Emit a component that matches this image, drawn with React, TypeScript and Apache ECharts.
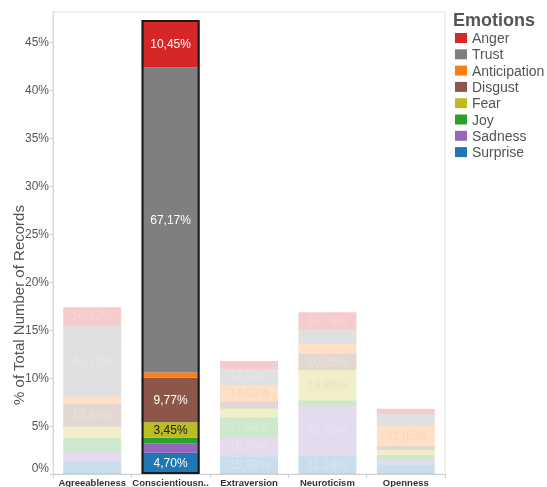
import React, { useEffect, useRef } from "react";
import * as echarts from "echarts";

// Personality traits (x categories)
const traits = ["Agreeableness", "Conscientiousness", "Extraversion", "Neuroticism", "Openness"];
// Share of all records per trait (%)
const traitTotals = [17.35, 47.26, 11.76, 16.83, 6.8];
// Emotions (legend order)
const emotions = ["Anger", "Trust", "Anticipation", "Disgust", "Fear", "Joy", "Sadness", "Surprise"];
const emotionColors = ["#d62728", "#7f7f7f", "#ff7f0e", "#8c564b", "#bcbd22", "#2ca02c", "#9467bd", "#1f77b4"];
// Share of each emotion within each trait (%), per trait in order of `traits`
const anger = [10.97, 10.45, 7.0, 10.79, 8.2];
const trust = [42.72, 67.17, 14.5, 8.72, 17.8];
const anticipation = [4.1, 1.2, 14.03, 5.95, 31.05];
const disgust = [13.85, 9.77, 6.65, 10.25, 6.7];
const fear = [6.9, 3.45, 7.6, 18.86, 7.3];
const joy = [7.8, 1.2, 17.94, 3.47, 7.8];
const sadness = [5.9, 2.06, 16.7, 30.78, 6.7];
const surprise = [7.76, 4.7, 15.58, 11.18, 14.45];
const shares = [anger, trust, anticipation, disgust, fear, joy, sadness, surprise];
const highlighted = "Conscientiousness";
const yTicks = ["0%", "5%", "10%", "15%", "20%", "25%", "30%", "35%", "40%", "45%"];

const FONT = "'Liberation Sans', Arial, sans-serif";

export default function App() {
  const ref = useRef<HTMLDivElement>(null);
  useEffect(() => {
    if (!ref.current) return;
    const chart = echarts.init(ref.current, null, { renderer: "svg" });
    const darkLabel = new Set(["Fear", "Anticipation"]);
    // stacking bottom-up: reverse of legend order
    const order = emotions.map((_, i) => i).reverse();
    const series: any[] = order.map((ei) => {
      const name = emotions[ei];
      return {
        name,
        type: "bar",
        stack: "total",
        barWidth: 58,
        barGap: "-100%",
        itemStyle: { color: emotionColors[ei] },
        data: traits.map((t, ti) => {
          const share = shares[ei][ti];
          const value = (traitTotals[ti] * share) / 100;
          const hi = t === highlighted;
          const dark = darkLabel.has(name);
          return {
            value,
            share,
            itemStyle: { opacity: hi ? 1 : 0.24 },
            label: {
              show: value >= 1.55,
              position: "inside",
              fontSize: 12,
              fontFamily: FONT,
              color: hi ? (dark ? "#1a1a1a" : "#ffffff") : dark ? "rgba(180,150,120,0.55)" : "rgba(255,255,255,0.85)",
              formatter: () => share.toFixed(2).replace(".", ",") + "%",
            },
          };
        }),
      };
    });
    series.push({
      name: "outline",
      type: "bar",
      barWidth: 58,
      barGap: "-100%",
      silent: true,
      z: 5,
      itemStyle: { color: "rgba(0,0,0,0)", borderColor: "#1a1a1a", borderWidth: 2 },
      label: { show: false },
      data: traits.map((t, ti) => (t === highlighted ? traitTotals[ti] : "-")),
    });

    chart.setOption({
      animation: false,
      textStyle: { fontFamily: FONT },
      title: {
        text: "Emotions",
        left: 448,
        top: 6,
        textStyle: { fontSize: 18, fontWeight: "bold", color: "#555555", fontFamily: FONT },
      },
      legend: {
        data: emotions,
        orient: "vertical",
        left: 450,
        top: 26,
        icon: "rect",
        itemWidth: 12,
        itemHeight: 10,
        itemGap: 2.3,
        selectedMode: false,
        textStyle: { fontSize: 14, color: "#555555", lineHeight: 14, fontFamily: FONT },
      },
      grid: {
        left: 53,
        right: 102,
        top: 12,
        bottom: 13,
        show: true,
        borderColor: "#e2e2e2",
        borderWidth: 1,
      },
      xAxis: {
        type: "category",
        data: traits,
        axisLine: { lineStyle: { color: "#d0d0d0" } },
        axisTick: { show: true, length: 4, lineStyle: { color: "#d0d0d0" } },
        axisLabel: {
          interval: 0,
          margin: 3,
          fontSize: 9.5,
          fontWeight: "bold",
          color: "#333333",
          fontFamily: FONT,
          formatter: (v: string) => (v.length > 14 ? v.slice(0, 14) + ".." : v),
        },
      },
      yAxis: {
        type: "value",
        min: 0,
        max: 48.1,
        interval: 5,
        splitLine: { show: false },
        axisLine: { show: true, lineStyle: { color: "#d8d8d8" } },
        axisTick: { show: true, length: 3, lineStyle: { color: "#c8c8c8" } },
        axisLabel: {
          margin: 4,
          fontSize: 12,
          color: "#555555",
          fontFamily: FONT,
          showMaxLabel: false,
          verticalAlignMinLabel: "bottom",
          formatter: (v: number) => yTicks[Math.round(v / 5)] ?? "",
        },
      },
      graphic: [
        {
          type: "text",
          x: 18,
          y: 305,
          rotation: Math.PI / 2,
          style: {
            text: "% of Total Number of Records",
            fontSize: 15,
            fontFamily: FONT,
            fill: "#555555",
            align: "center",
            verticalAlign: "middle",
          },
        },
      ],
      series,
    });
    return () => chart.dispose();
  }, []);
  return <div ref={ref} style={{ position: "fixed", left: 0, top: 0, width: 547, height: 487 }} />;
}
